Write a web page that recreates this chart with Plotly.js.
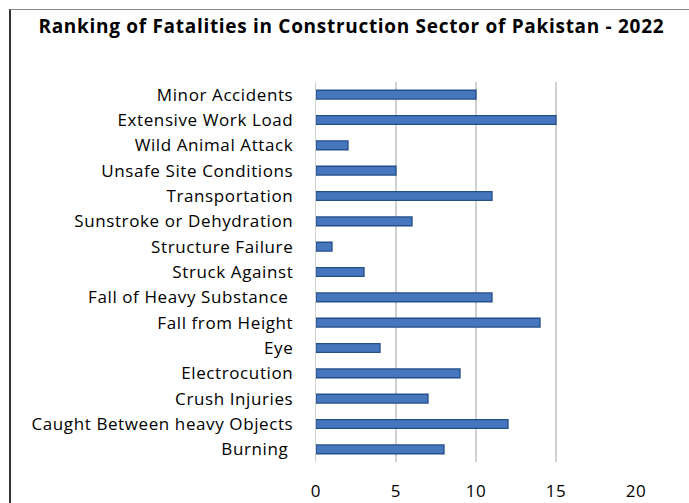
<!DOCTYPE html>
<html>
<head>
<meta charset="utf-8">
<script src="https://cdn.plot.ly/plotly-3.0.1.min.js"></script>
<style>
  html, body { margin: 0; padding: 0; background: #ffffff; }
  #wrap { position: relative; width: 689px; height: 503px; overflow: hidden; }
  #chart { position: absolute; left: 0; top: 0; width: 689px; height: 503px; }
  #frame { position: absolute; left: 9px; top: 9px; width: 700px; height: 520px;
           border-left: 2px solid #333333; border-top: 1px solid #8a8a8a; pointer-events: none; }
  #chart .ytick text, #chart .xtick text { letter-spacing: 0.6px; }
  #chart .gtitle { letter-spacing: 0.7px; }
</style>
</head>
<body>
<div id="wrap">
  <div id="chart"></div>
  <div id="frame"></div>
</div>
<script>
const categories = [
  "Minor Accidents",
  "Extensive Work Load",
  "Wild Animal Attack",
  "Unsafe Site Conditions",
  "Transportation",
  "Sunstroke or Dehydration",
  "Structure Failure",
  "Struck Against",
  "Fall of Heavy Substance ",
  "Fall from Height",
  "Eye",
  "Electrocution",
  "Crush Injuries",
  "Caught Between heavy Objects",
  "Burning "
];
const fatalities = [10, 15, 2, 5, 11, 6, 1, 3, 11, 14, 4, 9, 7, 12, 8];
const xTicks = [0, 5, 10, 15, 20];
const chartTitle = "Ranking of Fatalities in Construction Sector of Pakistan - 2022";

const font = "'Open Sans', Lato, sans-serif";

const trace = {
  type: "bar",
  orientation: "h",
  x: fatalities,
  y: categories,
  width: 0.35,
  marker: { color: "#4676BD", line: { color: "#234E8A", width: 1.3 } },
  hoverinfo: "x+y"
};

const layout = {
  width: 689,
  height: 503,
  margin: { l: 316, r: 53, t: 82, b: 41, pad: 0 },
  paper_bgcolor: "#ffffff",
  plot_bgcolor: "#ffffff",
  showlegend: false,
  title: {
    text: "<b>" + chartTitle + "</b>",
    font: { family: font, size: 19, color: "#000000" },
    x: 0.51, xanchor: "center", y: 0.947, yanchor: "middle"
  },
  xaxis: {
    range: [0, 20],
    tickvals: xTicks,
    ticktext: xTicks.map(String),
    showgrid: true,
    gridcolor: "#d0d0d0",
    gridwidth: 1.3,
    zeroline: false,
    showline: false,
    ticks: "",
    ticklabelstandoff: 17,
    tickfont: { family: font, size: 17, color: "#000000" },
    fixedrange: true
  },
  yaxis: {
    type: "category",
    autorange: "reversed",
    showgrid: false,
    zeroline: false,
    showline: true,
    linecolor: "#d0d0d0",
    linewidth: 1.3,
    ticks: "",
    ticklabelstandoff: 18,
    tickfont: { family: font, size: 17, color: "#000000" },
    fixedrange: true
  },
  bargap: 0.65
};

Plotly.newPlot("chart", [trace], layout, { displayModeBar: false, staticPlot: true });
</script>
</body>
</html>
